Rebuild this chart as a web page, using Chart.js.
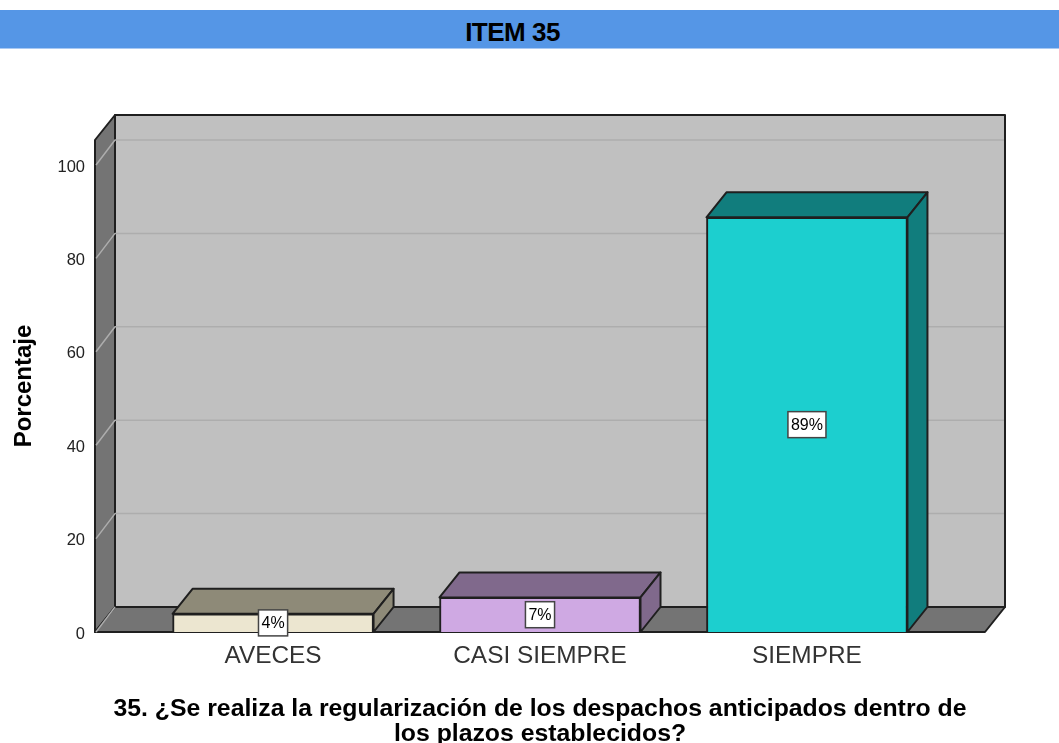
<!DOCTYPE html>
<html>
<head>
<meta charset="utf-8">
<title>ITEM 35</title>
<script src="https://cdn.jsdelivr.net/npm/chart.js@4"></script>
<style>
    html, body { margin: 0; padding: 0; background: #fff; overflow: hidden; }
    #wrap { position: relative; width: 1059px; height: 743px; }
    #cabecera {
        position: absolute; left: 0; top: 10px; width: 1059px; height: 38px;
        background: #5596e6; border-bottom: 1px solid #a9c9f3;
        color: #000; text-align: center;
        font: bold 26px/44px "Liberation Sans", sans-serif; letter-spacing: -0.5px;
    }
    #cabecera span { position: relative; left: -17px; }
</style>
</head>
<body>
<div id="wrap">
    <canvas id="grafico" width="1059" height="743"></canvas>
    <div id="cabecera"><span>ITEM 35</span></div>
</div>
<script>
const categorias = ["AVECES", "CASI SIEMPRE", "SIEMPRE"];
const porcentajes = [3.9, 7.4, 88.8];
const etiquetas = ["4%", "7%", "89%"];
const coloresFrente = ["#ece6d0", "#cfa9e3", "#1ccfcf"];
const coloresLado = ["#8e8a78", "#80698c", "#117d7d"];
const ticksY = [0, 20, 40, 60, 80, 100];
const tituloX = ["35. ¿Se realiza la regularización de los despachos anticipados dentro de", "los plazos establecidos?"];
const tituloY = "Porcentaje";

const PROF_X = 20;
const PROF_Y = 25;
const BORDE = "#1f1f1f";

function poligono(ctx, puntos, relleno) {
    ctx.beginPath();
    puntos.forEach(([x, y], i) => (i ? ctx.lineTo(x, y) : ctx.moveTo(x, y)));
    ctx.closePath();
    ctx.fillStyle = relleno;
    ctx.fill();
    ctx.strokeStyle = BORDE;
    ctx.lineWidth = 2;
    ctx.lineJoin = "round";
    ctx.stroke();
}

// paredes, piso y lineas de la caja 3D
const caja3d = {
    id: "caja3d",
    beforeDatasetsDraw(chart) {
        const { ctx, chartArea: a, scales } = chart;
        ctx.save();
        poligono(ctx, [[a.left + PROF_X, a.top - PROF_Y], [a.right + PROF_X, a.top - PROF_Y], [a.right + PROF_X, a.bottom - PROF_Y], [a.left + PROF_X, a.bottom - PROF_Y]], "#c0c0c0");
        poligono(ctx, [[a.left, a.top], [a.left + PROF_X, a.top - PROF_Y], [a.left + PROF_X, a.bottom - PROF_Y], [a.left, a.bottom]], "#747474");
        poligono(ctx, [[a.left, a.bottom], [a.left + PROF_X, a.bottom - PROF_Y], [a.right + PROF_X, a.bottom - PROF_Y], [a.right, a.bottom]], "#747474");

        ctx.strokeStyle = "#adadad";
        ctx.lineWidth = 1.5;
        ticksY.forEach(v => {
            const y = scales.y.getPixelForValue(v);
            ctx.beginPath();
            ctx.moveTo(a.left + 1, y);
            ctx.lineTo(a.left + PROF_X, y - PROF_Y);
            if (v > 0) ctx.lineTo(a.right + PROF_X - 1, y - PROF_Y);
            ctx.stroke();
        });

        // tapa y lado de cada barra
        chart.getDatasetMeta(0).data.forEach((bar, i) => {
            const { x, y, base, width } = bar.getProps(["x", "y", "base", "width"], true);
            const izq = x - width / 2;
            const der = x + width / 2;
            poligono(ctx, [[izq, y], [izq + PROF_X, y - PROF_Y], [der + PROF_X, y - PROF_Y], [der, y]], coloresLado[i]);
            poligono(ctx, [[der, y], [der + PROF_X, y - PROF_Y], [der + PROF_X, base - PROF_Y], [der, base]], coloresLado[i]);
        });
        ctx.restore();
    },
    afterDatasetsDraw(chart) {
        const { ctx } = chart;
        ctx.save();
        ctx.font = '16px "Liberation Sans", sans-serif';
        ctx.textAlign = "center";
        ctx.textBaseline = "middle";
        chart.getDatasetMeta(0).data.forEach((bar, i) => {
            const { x, y, base } = bar.getProps(["x", "y", "base"], true);
            const medio = (y + base) / 2;
            const ancho = ctx.measureText(etiquetas[i]).width + 6;
            ctx.fillStyle = "#fff";
            ctx.strokeStyle = "#444";
            ctx.lineWidth = 1.5;
            ctx.fillRect(x - ancho / 2, medio - 13, ancho, 26);
            ctx.strokeRect(x - ancho / 2, medio - 13, ancho, 26);
            ctx.fillStyle = "#000";
            ctx.fillText(etiquetas[i], x, medio + 1);
        });
        ctx.restore();
    },
};

new Chart(document.getElementById("grafico"), {
    type: "bar",
    data: {
        datasets: [{
            data: categorias.map((c, i) => ({ x: i, y: porcentajes[i] })),
            backgroundColor: coloresFrente,
            borderColor: BORDE,
            borderWidth: 2,
            barThickness: 201,
        }],
    },
    options: {
        responsive: false,
        animation: false,
        layout: { padding: { top: 140, right: 74, left: 0, bottom: 0 } },
        plugins: { legend: { display: false }, tooltip: { enabled: false } },
        scales: {
            x: {
                type: "linear",
                offset: false,
                min: -0.667,
                max: 2.667,
                grid: { display: false },
                border: { display: false },
                afterBuildTicks: s => { s.ticks = categorias.map((c, i) => ({ value: i })); },
                afterFit: s => { s.height = 111; },
                ticks: {
                    autoSkip: false,
                    maxRotation: 0,
                    padding: 2,
                    color: "#333",
                    font: { family: '"Liberation Sans", sans-serif', size: 24.4 },
                    callback: v => categorias[v],
                },
                title: {
                    display: true,
                    text: tituloX,
                    color: "#000",
                    padding: { top: 0, bottom: -4 },
                    font: { family: '"Liberation Sans", sans-serif', size: 24.8, weight: "bold", lineHeight: 1.02 },
                },
            },
            y: {
                min: 0,
                max: 105.35,
                grid: { display: false },
                border: { display: false },
                afterFit: s => { s.width = 95; },
                afterBuildTicks: s => { s.ticks = ticksY.map(v => ({ value: v })); },
                ticks: {
                    padding: 2,
                    labelOffset: 2,
                    color: "#222",
                    font: { family: '"Liberation Sans", sans-serif', size: 16.5 },
                },
                title: {
                    display: true,
                    text: tituloY,
                    color: "#000",
                    padding: { top: 10, bottom: 0 },
                    font: { family: '"Liberation Sans", sans-serif', size: 24, weight: "bold" },
                },
            },
        },
    },
    plugins: [caja3d],
});
</script>
</body>
</html>
